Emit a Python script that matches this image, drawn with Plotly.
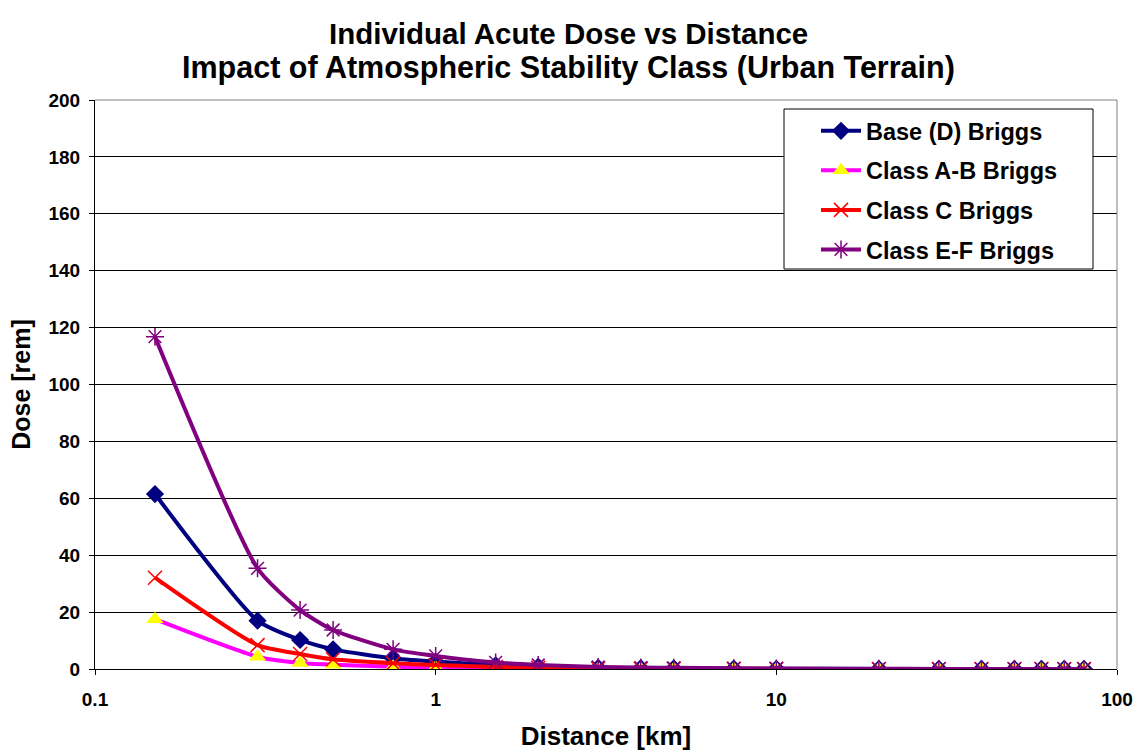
import plotly.graph_objects as go

distance = [0.15, 0.3, 0.4, 0.5, 0.75, 1, 1.5, 2, 3, 4, 5, 7.5, 10, 20, 30, 40, 50, 60, 70, 80]
base_d = [61.5, 17.0, 10.2, 6.9, 3.7, 2.6, 1.3, 0.8, 0.4, 0.3, 0.2, 0.12, 0.08, 0.03, 0.02, 0.01, 0.01, 0.01, 0.01, 0.01]
class_ab = [17.5, 4.3, 2.1, 1.5, 0.8, 0.5, 0.25, 0.15, 0.07, 0.05, 0.03, 0.02, 0.01, 0.01, 0.0, 0.0, 0.0, 0.0, 0.0, 0.0]
class_c = [32.1, 8.4, 5.3, 3.4, 2.0, 1.4, 0.7, 0.4, 0.2, 0.13, 0.1, 0.06, 0.04, 0.02, 0.01, 0.01, 0.01, 0.0, 0.0, 0.0]
class_ef = [116.8, 35.4, 20.7, 13.7, 6.9, 4.6, 2.3, 1.4, 0.7, 0.5, 0.4, 0.25, 0.18, 0.07, 0.04, 0.03, 0.02, 0.02, 0.02, 0.01]

title_lines = ["Individual Acute Dose vs Distance",
               "Impact of Atmospheric Stability Class (Urban Terrain)"]
x_ticks = [0.1, 1, 10, 100]
x_tick_labels = ["0.1", "1", "10", "100"]
y_ticks = list(range(0, 201, 20))

series = [
    ("Base (D) Briggs", base_d, "#000080", dict(symbol="diamond", color="#000080", size=14)),
    ("Class A-B Briggs", class_ab, "#FF00FF", dict(symbol="triangle-up", color="#FFFF00", size=15)),
    ("Class C Briggs", class_c, "#FF0000", dict(symbol="x-thin", color="#FF0000", size=14, line=dict(color="#FF0000", width=1.5))),
    ("Class E-F Briggs", class_ef, "#800080", dict(symbol="asterisk", color="#800080", size=15, line=dict(color="#800080", width=1.5))),
]

fig = go.Figure()
for i, (name, vals, lc, mk) in enumerate(series):
    fig.add_trace(go.Scatter(
        x=distance, y=vals, name="<b>" + name + "</b>", mode="lines+markers",
        legendgroup="g%d" % i,
        line=dict(color=lc, width=4, shape="spline", smoothing=0.6),
        marker=mk,
    ))

L, R, T, B = 95, 1117, 100, 669
W, H = 1137, 751
pw, ph = R - L, B - T

def px_x(x):
    return (x - L) / pw

def px_y(y):
    return (B - y) / ph

font_family = "Liberation Sans, Arial, sans-serif"
fig.update_layout(
    width=W, height=H,
    margin=dict(l=L, r=W - R, t=T, b=H - B, autoexpand=False),
    paper_bgcolor="white", plot_bgcolor="white",
    font=dict(family=font_family, color="black"),
    xaxis=dict(
        type="log", range=[-1, 2], automargin=False,
        tickvals=x_ticks, ticktext=["<b>%s</b>" % t for t in x_tick_labels],
        ticks="outside", ticklen=5, tickcolor="black", ticklabelstandoff=8,
        showline=True, linecolor="black", linewidth=1,
        showgrid=False, zeroline=False,
        tickfont=dict(size=19),
        title=dict(text="<b>Distance [km]</b>", font=dict(size=26), standoff=22),
    ),
    yaxis=dict(
        range=[0, 200], automargin=False,
        tickmode="array", tickvals=y_ticks,
        ticktext=["<b>%d</b>" % v for v in y_ticks],
        ticks="outside", ticklen=5, tickcolor="black", ticklabelstandoff=5,
        showline=True, linecolor="black", linewidth=1,
        showgrid=True, gridcolor="black", gridwidth=1,
        zeroline=False,
        tickfont=dict(size=19),
        title=dict(text="<b>Dose [rem]</b>", font=dict(size=25), standoff=10),
    ),
    legend=dict(
        x=px_x(816), y=px_y(109), xanchor="left", yanchor="top",
        bgcolor="rgba(0,0,0,0)", borderwidth=0,
        font=dict(size=23.5, family=font_family),
        tracegroupgap=6, itemwidth=40,
    ),
    showlegend=True,
)
# legend frame
fig.add_shape(type="rect", xref="paper", yref="paper",
              x0=px_x(784), x1=px_x(1093), y0=px_y(269), y1=px_y(109),
              fillcolor="white", line=dict(color="black", width=1), layer="above")
fig.add_annotation(text="<b>%s</b>" % title_lines[0], xref="paper", yref="paper",
                   x=px_x(568.5), y=px_y(34), xanchor="center", yanchor="middle",
                   showarrow=False, font=dict(size=29.5, family=font_family))
fig.add_annotation(text="<b>%s</b>" % title_lines[1], xref="paper", yref="paper",
                   x=px_x(568.5), y=px_y(67), xanchor="center", yanchor="middle",
                   showarrow=False, font=dict(size=30.5, family=font_family))
fig.add_shape(type="line", xref="paper", yref="paper", x0=1, x1=1, y0=0, y1=1,
              line=dict(color="#808080", width=1))
fig.add_shape(type="line", xref="paper", yref="paper", x0=0, x1=1, y0=1, y1=1,
              line=dict(color="#808080", width=1))

fig.write_html("out.html")
